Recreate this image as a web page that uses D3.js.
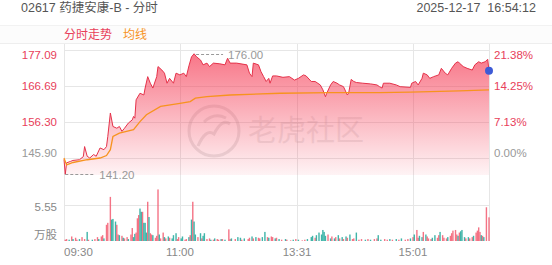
<!DOCTYPE html>
<meta charset="utf-8">
<script src="https://d3js.org/d3.v7.min.js"></script>
<style type="text/css">
body { margin: 0; background: #fff; }
svg text { font-family: "Liberation Sans", Arial, "Noto Sans CJK SC", sans-serif; }
.grid line { stroke: #e6e6e6; stroke-width: 1px; shape-rendering: crispEdges; }
</style>
<body></body>
<script>

// minute index counted in trading minutes from 09:30 (lunch break removed)
var priceMin = [0,1,2,5,7,12,15,16,18,20,23,25,28,31,33,34,36,38,41,43,45,47,50,53,54,55,56,59,62,63,65,67,69,72,73,76,78,80,82,85,87,90,93,95,97,99,101,103,106,108,111,113,116,121,125,127,129,134,142,144,146,147,151,153,155,157,159,160,162,165,170,175,179,182,186,188,192,195,199,201,203,204,207,209,212,214,217,220,221,223,225,227,232,238,243,245,247,248,253,258,261,269,270,273,275,278,279,282,284,287,291,293,296,298,301,304,306,307,310,313,317,319,322,324,327,329,330];
var priceVal = [145.5,141.2,144.5,144.9,145.2,145.4,146.3,149.2,146.4,145.9,146.9,146.4,148.8,148.3,149.2,152.1,158.9,155.0,154.5,155.0,153.6,154.5,156.0,156.9,157.9,157.4,162.7,164.6,164.1,166.1,169.4,167.5,166.1,169.4,172.3,171.3,170.4,167.5,168.9,167.5,170.4,169.9,170.4,169.4,172.5,175.1,176.0,175.1,174.2,172.8,173.3,172.3,173.3,173.1,172.8,174.7,173.3,173.3,172.8,170.4,169.4,173.3,172.8,170.8,169.4,168.0,168.9,167.5,169.6,169.6,169.2,169.4,168.4,168.9,169.9,169.6,168.0,168.0,167.0,165.6,163.6,164.6,167.0,168.0,167.5,167.0,166.5,164.1,164.6,168.6,168.0,167.7,167.5,167.3,167.0,166.5,166.1,167.5,167.5,167.0,166.5,166.3,167.5,168.0,167.0,168.9,170.4,169.9,168.9,169.4,169.9,171.8,170.4,169.9,171.8,173.3,173.7,173.3,172.3,171.8,171.3,172.8,173.7,173.3,173.7,174.4,171.1];

var avgMin = [0,2,7,18,28,33,36,38,43,54,59,64,75,90,98,102,111,129,168,207,245,269,307,330];
var avgVal = [145.9,143.9,144.6,145.4,145.9,146.6,148.3,152.1,153.1,154.1,156.4,158.4,160.8,161.7,162.2,163.2,163.6,164.1,164.6,164.8,164.8,164.9,165.3,165.6];

// volume in 万股, dir 1 = up (red), 0 = down (green)
var volMin = [1,2,4,6,7,9,10,12,14,16,18,19,22,24,26,27,29,30,31,33,34,36,37,38,40,41,42,43,45,46,47,49,50,52,53,54,55,56,57,58,59,60,61,62,63,64,65,66,67,68,69,71,72,73,74,75,77,78,79,81,82,84,85,87,88,89,91,92,94,95,97,98,99,100,101,102,104,106,107,108,109,111,113,114,116,117,119,120,122,123,125,128,129,130,133,135,137,138,140,143,144,146,147,149,151,152,154,156,158,159,161,162,164,165,167,169,172,173,176,178,180,182,185,187,189,192,193,195,196,198,200,201,202,203,205,207,208,210,211,213,214,216,217,219,220,222,224,225,227,229,231,234,236,238,241,243,244,246,249,251,253,255,258,260,262,265,267,269,271,272,274,275,276,278,279,281,282,283,285,286,288,290,291,292,294,295,297,298,300,301,302,304,305,306,307,308,309,311,312,314,315,317,318,320,321,322,323,324,325,326,328,330];
var volVal = [0.2,0.3,0.2,0.7,0.3,0.5,0.2,0.3,0.6,0.3,1.4,0.2,0.2,0.3,0.6,0.3,0.7,0.9,0.4,2.5,2.8,6.8,3.3,3.4,3.0,2.5,1.0,0.9,0.8,0.5,0.4,0.6,0.3,1.0,2.0,0.6,1.1,1.3,3.5,4.0,5.0,4.5,4.5,2.8,2.8,1.3,6.05,3.7,1.2,1.0,0.9,0.5,0.8,7.95,1.0,0.4,1.3,0.6,0.4,0.7,0.5,0.4,0.9,1.2,0.3,0.6,0.4,0.7,0.2,0.3,0.6,0.9,3.3,6.05,3.0,1.0,0.6,1.2,0.4,0.8,1.2,0.3,0.4,0.2,0.2,0.4,0.3,0.2,0.3,0.3,0.2,1.8,0.3,0.4,0.3,0.6,0.5,0.2,0.4,0.3,0.5,0.7,0.4,0.6,0.5,0.4,0.6,1.4,0.6,0.5,0.7,0.6,0.4,0.5,0.3,0.2,0.3,0.2,0.1,0.2,0.3,0.2,0.1,0.2,0.3,0.6,0.8,0.5,0.9,1.3,1.0,1.7,1.4,0.8,1.0,0.4,0.7,0.4,0.6,0.9,0.4,0.6,0.3,0.7,0.5,1.0,0.3,0.4,1.3,0.2,0.3,0.2,0.3,0.2,0.3,0.4,0.9,0.2,0.3,0.2,0.3,0.2,0.3,0.2,0.4,0.2,0.3,0.4,0.6,1.0,1.7,0.5,0.8,0.6,1.4,1.0,0.7,0.4,0.3,0.5,0.9,0.5,0.9,1.4,0.9,0.5,0.4,0.6,0.8,1.2,1.6,1.7,1.0,0.8,1.3,1.5,1.7,0.6,0.4,0.6,0.4,0.6,0.8,1.3,1.6,2.1,1.4,0.9,0.8,0.6,5.2,3.65];
var volDir = [1,1,0,1,0,1,1,0,1,1,0,1,0,1,1,0,1,1,0,1,1,1,0,0,0,1,1,0,1,0,1,1,0,1,1,0,0,1,1,1,0,0,1,0,0,0,1,0,1,1,0,1,1,1,0,1,1,0,1,0,1,0,0,0,1,1,0,0,1,1,0,1,0,1,0,0,1,0,1,0,0,1,1,0,1,0,1,1,0,1,0,1,1,0,1,0,0,1,0,1,1,0,1,0,1,1,0,0,1,0,1,1,0,1,0,1,0,1,1,0,1,0,1,1,0,0,0,1,0,0,0,0,0,0,1,0,1,0,1,0,1,0,1,0,1,0,1,1,0,1,1,0,1,0,1,1,0,0,1,1,0,1,0,1,0,1,1,0,1,0,1,1,0,0,1,0,1,1,1,0,0,1,1,0,1,1,1,0,1,1,1,1,1,0,1,0,0,0,1,0,1,1,0,1,1,1,1,0,1,0,1,1,0];

var priceTicks = [177.09, 166.69, 156.30, 145.90];
var pctTicks = ["21.38%", "14.25%", "7.13%", "0.00%"];
var prevClose = 145.90;
var volTick = 5.55;
var timeLabels = ["09:30", "11:00", "13:31", "15:01"];
var highPrice = 176.00, lowPrice = 141.20;

var red = "#e8405a", gray = "#999", orange = "#f7931e";

function tradeMin(s) {
    var p = s.split(':'), t = +p[0] * 60 + (+p[1]);
    var m = t - 570;
    if (t >= 780) m -= 60;
    return m;
}

var svg = d3.select("body").append("svg")
    .attr("width", 552)
    .attr("height", 265);

var x = d3.scaleLinear().domain([0, 330]).range([64, 489]);
var y = d3.scaleLinear().domain([prevClose, 177.09]).range([158, 50]);
var yv = d3.scaleLinear().domain([0, volTick]).range([241, 205]);
var pBottom = 175;

// header
svg.append('text').attr('x', 21).attr('y', 12).attr('fill', '#555').style('font-size', '12.5px')
    .text('02617 药捷安康-B - 分时');
svg.append('text').attr('x', 536).attr('y', 12).attr('fill', '#555').attr('text-anchor', 'end')
    .style('font-size', '12.5px').attr('xml:space', 'preserve').text('2025-12-17  16:54:12');

// tab band
svg.append('rect').attr('x', 0).attr('y', 25).attr('width', 552).attr('height', 19).attr('fill', '#fcfcfc');
var grid = svg.append('g').attr('class', 'grid');
grid.append('line').attr('x1', 0).attr('x2', 552).attr('y1', 25.5).attr('y2', 25.5).style('stroke', '#f2f2f2');
grid.append('line').attr('x1', 0).attr('x2', 552).attr('y1', 43.5).attr('y2', 43.5).style('stroke', '#eeeeee');
svg.append('text').attr('x', 64).attr('y', 38.5).attr('fill', red).style('font-size', '12px').text('分时走势');
svg.append('text').attr('x', 123).attr('y', 38.5).attr('fill', orange).style('font-size', '12px').text('均线');

// grid
grid.selectAll('.hp').data(priceTicks).enter().append('line')
    .attr('x1', 64).attr('x2', 489)
    .attr('y1', function(d) { return Math.round(y(d)) + 0.5; })
    .attr('y2', function(d) { return Math.round(y(d)) + 0.5; });
grid.append('line').attr('x1', 64).attr('x2', 489)
    .attr('y1', Math.round(yv(volTick)) + 0.5).attr('y2', Math.round(yv(volTick)) + 0.5);
var vx = [0].concat(timeLabels.slice(1).map(tradeMin)).concat([330]);
grid.selectAll('.vl').data(vx).enter().append('line')
    .attr('x1', function(d) { return Math.round(x(d)) + 0.5; })
    .attr('x2', function(d) { return Math.round(x(d)) + 0.5; })
    .attr('y1', 44).attr('y2', 241);

// watermark
var wm = svg.append('g').attr('opacity', 0.28);
wm.append('circle').attr('cx', 214).attr('cy', 131).attr('r', 25)
    .attr('fill', 'none').attr('stroke', '#aaa').attr('stroke-width', 3);
wm.append('path').attr('d', 'M198,146 Q206,128 214,134 Q222,118 230,124 M204,122 Q214,112 226,118')
    .attr('fill', 'none').attr('stroke', '#aaa').attr('stroke-width', 3);
wm.append('text').attr('x', 248).attr('y', 141).attr('fill', '#bbb')
    .style('font-size', '29px').style('font-family', '"Noto Sans CJK SC"').text('老虎社区');

// area + lines
var pts = priceMin.map(function(m, i) { return [m, priceVal[i]]; });
var avgPts = avgMin.map(function(m, i) { return [m, avgVal[i]]; });

var defs = svg.append('defs');
var grad = defs.append('linearGradient').attr('id', 'fillGrad')
    .attr('gradientUnits', 'userSpaceOnUse').attr('x1', 0).attr('x2', 0).attr('y1', 50).attr('y2', pBottom);
grad.append('stop').attr('offset', '0%').attr('stop-color', '#f53c55').attr('stop-opacity', 0.72);
grad.append('stop').attr('offset', '100%').attr('stop-color', '#f53c55').attr('stop-opacity', 0.06);

var area = d3.area()
    .x(function(d) { return x(d[0]); })
    .y0(pBottom)
    .y1(function(d) { return y(d[1]); });
var line = d3.line()
    .x(function(d) { return x(d[0]); })
    .y(function(d) { return y(d[1]); });

svg.append('path').datum(pts).attr('d', area).attr('fill', 'url(#fillGrad)');
svg.append('path').datum(pts).attr('d', line).attr('fill', 'none').attr('stroke', '#e5324a').attr('stroke-width', 1);
svg.append('path').datum(avgPts).attr('d', line).attr('fill', 'none').attr('stroke', orange).attr('stroke-width', 1.3);

// high / low markers
var hiIdx = priceVal.indexOf(highPrice), loIdx = priceVal.indexOf(lowPrice);
var hx = x(priceMin[hiIdx]), hy = Math.round(y(highPrice)) + 0.5;
svg.append('line').attr('x1', hx + 2).attr('x2', hx + 29).attr('y1', hy).attr('y2', hy)
    .attr('stroke', '#999').attr('stroke-dasharray', '3,2');
svg.append('text').attr('x', hx + 34).attr('y', hy + 4).attr('fill', '#999').style('font-size', '11.5px').text(highPrice.toFixed(2));
var ly = Math.round(y(lowPrice)) + 0.5;
svg.append('line').attr('x1', x(priceMin[loIdx])).attr('x2', x(priceMin[loIdx]) + 30).attr('y1', ly).attr('y2', ly)
    .attr('stroke', '#999').attr('stroke-dasharray', '3,2');
svg.append('text').attr('x', x(priceMin[loIdx]) + 34).attr('y', ly + 4).attr('fill', '#999').style('font-size', '11.5px').text(lowPrice.toFixed(2));

// last point
svg.append('circle').attr('cx', x(priceMin[priceMin.length - 1])).attr('cy', y(priceVal[priceVal.length - 1]))
    .attr('r', 4).attr('fill', '#3d5ad6');

// price labels
var shift = [9, 4, 4, -0.7];
svg.selectAll('.pl').data(priceTicks).enter().append('text')
    .attr('x', 57).attr('text-anchor', 'end')
    .attr('y', function(d, i) { return Math.round(y(d)) + shift[i]; })
    .attr('fill', function(d) { return d > prevClose ? red : gray; })
    .style('font-size', '11.5px')
    .text(function(d) { return d.toFixed(2); });
svg.selectAll('.pr').data(pctTicks).enter().append('text')
    .attr('x', 494)
    .attr('y', function(d, i) { return Math.round(y(priceTicks[i])) + shift[i]; })
    .attr('fill', function(d, i) { return priceTicks[i] > prevClose ? red : gray; })
    .style('font-size', '11.5px')
    .text(function(d) { return d; });

// volume bars
svg.append('g').selectAll('rect').data(volMin).enter().append('rect')
    .attr('x', function(d) { return x(d) - 0.7; })
    .attr('width', 1.4)
    .attr('y', function(d, i) { return yv(volVal[i]); })
    .attr('height', function(d, i) { return 241 - yv(volVal[i]); })
    .attr('fill', function(d, i) { return volDir[i] ? '#f25a70' : '#1fa89a'; })
    .attr('opacity', 0.85);

svg.append('text').attr('x', 57).attr('y', Math.round(yv(volTick)) + 6).attr('text-anchor', 'end')
    .attr('fill', '#888').style('font-size', '11.5px').text(volTick.toFixed(2));
svg.append('text').attr('x', 57).attr('y', 239).attr('text-anchor', 'end')
    .attr('fill', '#888').style('font-size', '11.5px').text('万股');

// time labels
svg.selectAll('.tl').data(timeLabels).enter().append('text')
    .attr('x', function(d) { return x(tradeMin(d)); })
    .attr('y', 256)
    .attr('text-anchor', function(d, i) { return i == 0 ? 'start' : 'middle'; })
    .attr('fill', '#888')
    .style('font-size', '11.5px')
    .text(function(d) { return d; });

</script>
